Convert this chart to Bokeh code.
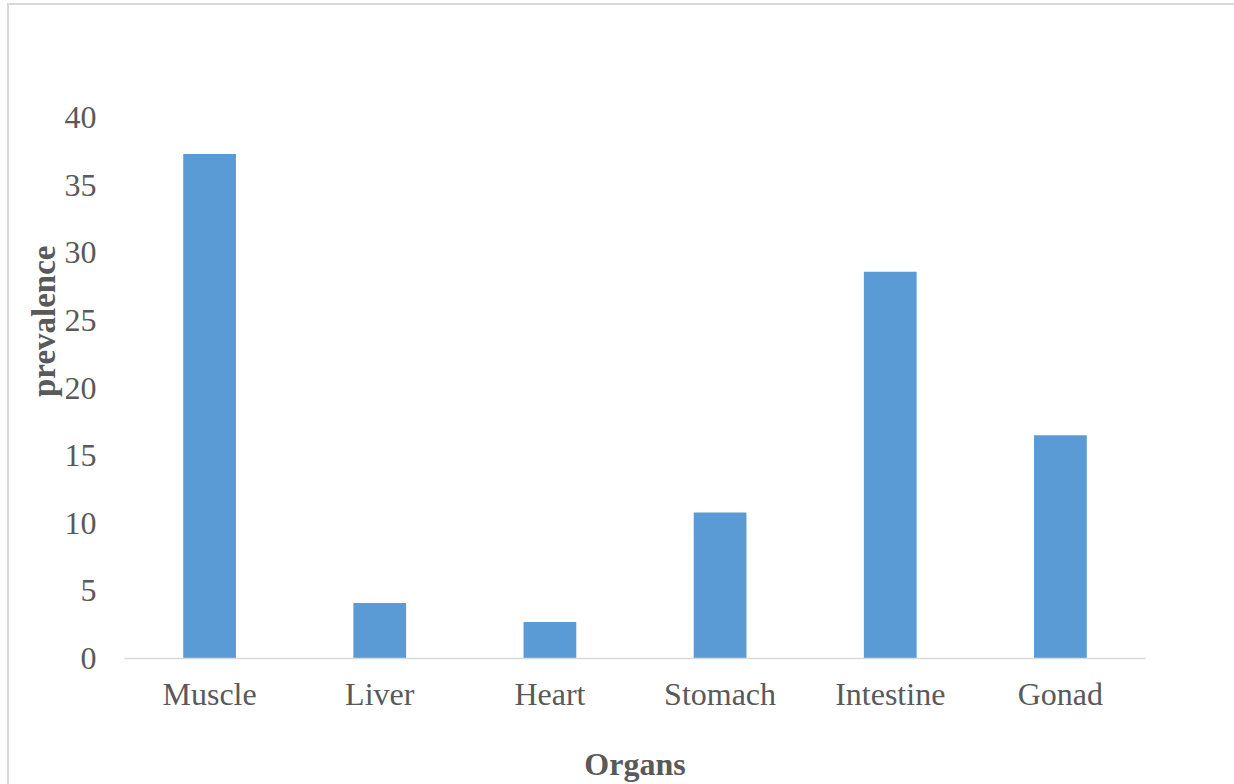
from bokeh.plotting import figure
from bokeh.models import ColumnDataSource, FixedTicker, Range1d, Title
from bokeh.embed import file_html
from bokeh.resources import INLINE

organs = ["Muscle", "Liver", "Heart", "Stomach", "Intestine", "Gonad"]
prevalence = [37.3, 4.1, 2.7, 10.8, 28.6, 16.5]
y_ticks = [0, 5, 10, 15, 20, 25, 30, 35, 40]

FONT = "Liberation Serif"
TEXT = "#595959"
BAR = "#5B9BD5"
GRID = "#D9D9D9"

source = ColumnDataSource(data=dict(organs=organs, prevalence=prevalence))

p = figure(
    x_range=organs,
    y_range=Range1d(0, 40),
    width=1234,
    height=784,
    output_backend="svg",
    toolbar_location=None,
    min_border_left=124,
    min_border_right=89,
    min_border_top=117,
    min_border_bottom=126,
)
p.vbar(x="organs", top="prevalence", width=0.31, source=source,
       fill_color=BAR, line_color=None)

p.outline_line_color = None
p.xgrid.grid_line_color = None
p.ygrid.grid_line_color = None
p.background_fill_color = "white"
p.border_fill_color = None
p.styles = {
    "background": (
        "linear-gradient(#D9D9D9, #D9D9D9) 7px 3px / 2px 100% no-repeat, "
        "linear-gradient(#D9D9D9, #D9D9D9) 7px 3px / 100% 2px no-repeat, "
        "white"
    )
}

p.yaxis.ticker = FixedTicker(ticks=y_ticks)
p.yaxis.axis_line_color = None
p.yaxis.major_tick_line_color = None
p.yaxis.minor_tick_line_color = None
p.yaxis.major_label_standoff = 22
p.yaxis.major_label_text_font = FONT
p.yaxis.major_label_text_font_size = "32px"
p.yaxis.major_label_text_color = TEXT

p.xaxis.axis_line_color = GRID
p.xaxis.axis_line_width = 1.5
p.xaxis.major_tick_line_color = None
p.xaxis.minor_tick_line_color = None
p.xaxis.major_label_standoff = 11
p.xaxis.major_label_text_font = FONT
p.xaxis.major_label_text_font_size = "32px"
p.xaxis.major_label_text_color = TEXT

p.xaxis.axis_label = "Organs"
p.xaxis.axis_label_standoff = 31
p.xaxis.axis_label_text_font = FONT
p.xaxis.axis_label_text_font_size = "32px"
p.xaxis.axis_label_text_font_style = "bold"
p.xaxis.axis_label_text_color = TEXT

p.add_layout(Title(text="prevalence", align="right", offset=128,
                   text_font=FONT, text_font_size="33px",
                   text_font_style="bold", text_color=TEXT,
                   standoff=0), "left")

open("out.html", "w").write(file_html(p, INLINE))
